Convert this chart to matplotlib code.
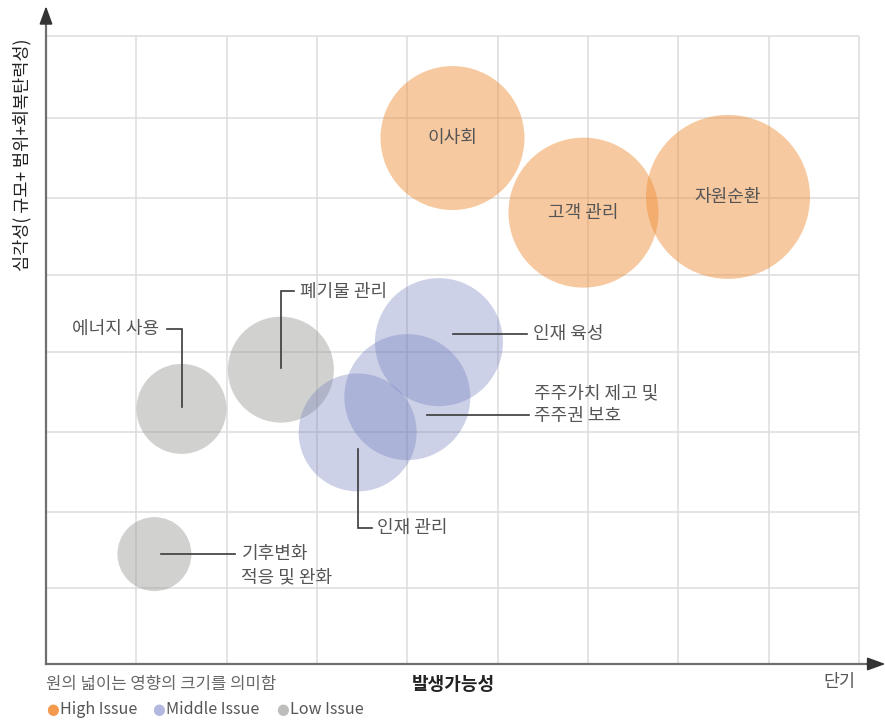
import matplotlib
matplotlib.use("Agg")
import matplotlib.pyplot as plt
from matplotlib.transforms import ScaledTranslation

plt.rcParams['font.family'] = ['Noto Sans CJK KR', 'DejaVu Sans']

# ---- data -------------------------------------------------------------
issues = ['이사회', '고객 관리', '자원순환',
          '인재 육성', '주주가치 제고 및\n주주권 보호', '인재 관리',
          '폐기물 관리', '에너지 사용', '기후변화\n적응 및 완화']
likelihood = [4.5, 5.95, 7.55, 4.35, 4.0, 3.45, 2.6, 1.5, 1.2]
severity = [6.7, 5.75, 5.95, 4.1, 3.4, 2.95, 3.75, 3.25, 1.4]
impact = [72, 75, 82, 64, 63, 59, 53, 45, 37]
level = ['High', 'High', 'High', 'Middle', 'Middle', 'Middle', 'Low', 'Low', 'Low']

level_names = ['High', 'Middle', 'Low']
legend_labels = ['High Issue', 'Middle Issue', 'Low Issue']
x_grid = [1, 2, 3, 4, 5, 6, 7, 8, 9]
y_grid = [0.97, 1.94, 2.96, 3.98, 4.95, 5.94, 6.96, 8]

# ---- style ------------------------------------------------------------
fill = {'High': ('#EF8E36', 0.47), 'Middle': ('#707CBD', 0.35), 'Low': ('#9A9C98', 0.45)}
dot = {'High': '#F39A4E', 'Middle': '#B3B8E0', 'Low': '#BDBEBC'}

W, H = 885, 722
fig = plt.figure(figsize=(W / 100, H / 100), dpi=100)
ax = fig.add_axes([46 / W, 58 / H, 813 / W, 628 / H])
ax.set_xlim(0, 9)
ax.set_ylim(0, 8)
ax.set_xticks([])
ax.set_yticks([])
for s in ax.spines.values():
    s.set_visible(False)

gcol = '#DCDCDC'
ax.vlines(x_grid, 0, 8, colors=gcol, lw=1.1, clip_on=False, zorder=0)
ax.hlines(y_grid, 0, 9, colors=gcol, lw=1.1, clip_on=False, zorder=0)

# axes with arrowheads
acol = '#6F6F6F'
ax.plot([0, 0], [0, 1.03], color=acol, lw=1.6, transform=ax.transAxes, clip_on=False, zorder=3)
ax.plot([0, 1.02], [0, 0], color=acol, lw=1.6, transform=ax.transAxes, clip_on=False, zorder=3)
ax.annotate('', xy=(0, 1.0475), xytext=(0, 1.02), xycoords='axes fraction',
            arrowprops=dict(arrowstyle='-|>,head_length=1.1,head_width=0.4', color='#333333',
                            lw=1.2, shrinkA=0, shrinkB=0, mutation_scale=10), annotation_clip=False)
ax.annotate('', xy=(1.0325, 0), xytext=(1.01, 0), xycoords='axes fraction',
            arrowprops=dict(arrowstyle='-|>,head_length=1.1,head_width=0.4', color='#333333',
                            lw=1.2, shrinkA=0, shrinkB=0, mutation_scale=10), annotation_clip=False)

# bubbles
for lv in ['Low', 'Middle', 'High']:
    idx = [i for i, l in enumerate(level) if l == lv]
    c, a = fill[lv]
    ax.scatter([likelihood[i] for i in idx], [severity[i] for i in idx],
               s=[(2 * impact[i] * 0.72) ** 2 for i in idx],
               color=c, alpha=a, linewidths=0, zorder=2, clip_on=False)

# ---- labels -----------------------------------------------------------
tcol = '#555555'
lcol = '#3A3A3A'
fs = 13

def anchored(i):
    # pixel offsets (y up) measured from the bubble centre
    return fig.dpi_scale_trans + ScaledTranslation(likelihood[i], severity[i], ax.transData)

# leader-line paths and text anchors, in pixels relative to each bubble centre
callouts = {
    3: dict(path=[(14, 8), (88, 8)], text=(94, 8), ha='left'),
    4: dict(path=[(20, -17.5), (122, -17.5)], text=(127, 3.5), ha='left', gap=22),
    5: dict(path=[(0, -16.5), (0, -95.5), (14, -95.5)], text=(19, -95), ha='left'),
    6: dict(path=[(0, 2), (0, 79), (13, 79)], text=(19, 78), ha='left'),
    7: dict(path=[(0, 2), (0, 80), (-15, 80)], text=(-22, 80), ha='right'),
    8: dict(path=[(7, 0), (81, 0)], text=(87, 0), ha='left', gap=23.5),
}

for i, name in enumerate(issues):
    tr = anchored(i)
    if i in callouts:
        cfg = callouts[i]
        xs = [p[0] / 100 for p in cfg['path']]
        ys = [p[1] / 100 for p in cfg['path']]
        ax.plot(xs, ys, color=lcol, lw=1.2, transform=tr, zorder=4, clip_on=False,
                solid_joinstyle='miter')
        tx, ty = cfg['text']
        gap = cfg.get('gap', 23)
        for k, line in enumerate(name.split('\n')):
            ax.text(tx / 100, (ty - gap * k) / 100, line, transform=tr, ha=cfg['ha'],
                    va='center', fontsize=fs, color=tcol, zorder=5)
    else:
        ax.text(0, 0, name, transform=tr, ha='center', va='center',
                fontsize=fs, color=tcol, zorder=5)

def fp(x, y):
    return x / W, 1 - y / H

fig.text(*fp(22, 155), '심각성( 규모+ 범위+회복탄력성)', rotation=90, ha='center', va='center',
         fontsize=12.6, color='#222222')
fig.text(*fp(453, 684), '발생가능성', ha='center', va='center', fontsize=13,
         fontweight='bold', color='#222222')
fig.text(*fp(839, 682), '단기', ha='center', va='center', fontsize=12.5, color='#555555')
fig.text(*fp(46, 684), '원의 넓이는 영향의 크기를 의미함', ha='left', va='center',
         fontsize=12, color='#666666')

# legend row
lx = [46, 152, 276]
for x0, lv, lab in zip(lx, level_names, legend_labels):
    fig.text(*fp(x0, 709), '●', ha='left', va='center', fontsize=10.5, color=dot[lv],
             family=['DejaVu Sans'])
    fig.text(*fp(x0 + 14, 709), lab, ha='left', va='center', fontsize=11.6, color='#555555')

fig.savefig('out.png', dpi=100)
